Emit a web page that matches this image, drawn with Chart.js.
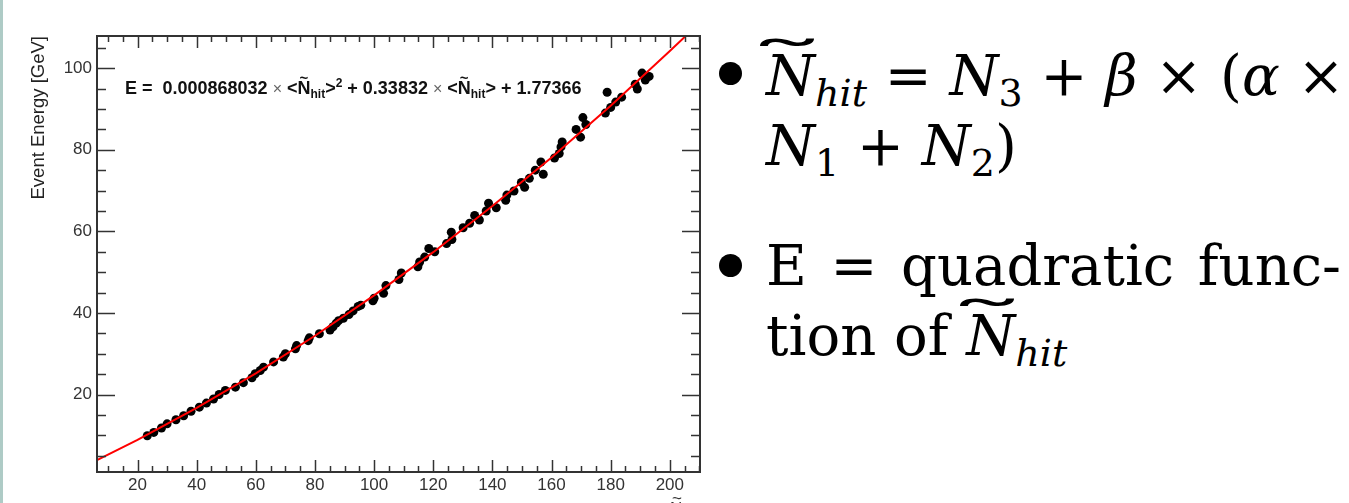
<!DOCTYPE html>
<html>
<head>
<meta charset="utf-8">
<script src="https://cdn.jsdelivr.net/npm/chart.js@4.4.0/dist/chart.umd.min.js"></script>
<style>
html, body { margin: 0; padding: 0; background: #fff; width: 1349px; height: 503px; overflow: hidden; }
#strip { position: absolute; left: 0; top: 0; width: 3px; height: 503px; background: #aecbc6; }
#plot { position: absolute; left: 0; top: 0; width: 712px; height: 503px; }
.bul { position: absolute; left: 719px; width: 23px; height: 23px; border-radius: 50%; background: #000; }
.ln { position: absolute; left: 766px; width: 575px; font-family: "DejaVu Serif", "Liberation Serif", "Noto Serif", serif;
      font-size: 56px; line-height: 60px; color: #000; text-align: justify; text-align-last: justify; white-space: nowrap; }
.ln i { font-style: italic; }
.sb { font-size: 38px; position: relative; top: 11px; }
.wt { position: relative; display: inline-block; }
.wt .tl { position: absolute; left: 28px; width: 100%; text-align: center; top: -13px; font-style: normal;
          transform: scaleX(3); }
</style>
</head>
<body>
<div id="strip"></div>
<div id="plot"><canvas id="myChart"></canvas></div>

<div class="bul" style="top:62px"></div>
<div class="ln" style="top:46px"><span class="wt"><i>N</i><span class="tl">˜</span></span><i class="sb">hit</i> = <i>N</i><span class="sb">3</span> + <i>β</i> × (<i>α</i> ×</div>
<div class="ln" style="top:116px;text-align-last:left"><i>N</i><span class="sb">1</span> + <i>N</i><span class="sb">2</span>)</div>
<div class="bul" style="top:254px"></div>
<div class="ln" style="top:236px">E = quadratic func-</div>
<div class="ln" style="top:306px;text-align-last:left">tion of <span class="wt"><i>N</i><span class="tl">˜</span></span><i class="sb">hit</i></div>

<script>
// measured points: <N~hit> vs event energy
var nhit = [23.3, 25.5, 28.1, 30.0, 33.0, 35.6, 38.1, 40.9, 43.3, 45.7,
            47.6, 49.7, 53.1, 55.8, 58.7, 59.8, 61.5, 62.6, 66.0, 69.3,
            70.0, 73.4, 73.8, 77.7, 78.1, 81.5, 85.1, 86.1, 87.2, 88.0,
            89.6, 91.5, 92.9, 94.6, 95.5, 99.6, 100.0, 103.2, 104.0, 108.4,
            109.2, 114.8, 115.4, 117.1, 118.5, 120.5, 124.5, 126.3, 126.1, 130.1,
            132.3, 134.0, 135.6, 137.9, 138.7, 141.3, 144.5, 144.9, 147.3, 149.8,
            150.9, 152.5, 154.5, 156.4, 157.2, 161.0, 162.6, 163.2, 163.6, 168.3,
            169.8, 170.6, 171.6, 178.2, 178.8, 180.0, 181.7, 183.7, 188.3, 189.0,
            190.6, 191.7, 193.0];
var energy = [9.9, 10.7, 11.8, 12.8, 13.8, 14.8, 15.9, 16.9, 17.9, 18.9,
              20.0, 21.0, 21.8, 22.9, 24.1, 25.1, 25.9, 26.7, 28.0, 29.2,
              30.0, 31.2, 32.0, 33.2, 33.9, 34.9, 35.8, 36.6, 37.5, 38.1,
              38.7, 39.6, 40.5, 41.6, 41.9, 43.0, 43.6, 44.8, 46.7, 48.2,
              49.8, 51.3, 52.5, 53.7, 55.8, 55.0, 57.0, 58.0, 59.8, 60.9,
              62.0, 63.9, 62.8, 65.0, 66.9, 65.8, 67.6, 68.9, 69.9, 72.0,
              70.8, 73.0, 75.0, 77.0, 74.0, 78.0, 79.1, 80.7, 81.9, 85.0,
              83.1, 87.9, 86.2, 89.0, 94.1, 90.4, 91.7, 92.9, 96.1, 94.9,
              98.8, 97.1, 98.0];

// fit curve
var fitX = [6.3, 20, 40, 60, 80, 100, 120, 140, 160, 180, 200, 210];
var fitE = [3.9, 8.9, 16.7, 25.2, 34.4, 44.3, 54.9, 66.2, 78.1, 90.8, 104.2, 111.1];

var xTicks = [20, 40, 60, 80, 100, 120, 140, 160, 180, 200];
var yTicks = [20, 40, 60, 80, 100];

var fitText = ['0.000868032', '0.33832', '1.77366'];

function pts(xs, ys) {
    return xs.map(function (v, i) { return {x: v, y: ys[i]}; });
}

Chart.defaults.font.family = '"Liberation Sans", Arial, sans-serif';
Chart.defaults.color = '#333';

// ROOT style frame, inward ticks on all four sides, fit label
var rootFrame = {
    id: 'rootFrame',
    afterDatasetsDraw: function (chart) {
        var ctx = chart.ctx, a = chart.chartArea;
        var xs = chart.scales.x, ys = chart.scales.y;
        ctx.save();
        ctx.strokeStyle = '#333';
        ctx.lineWidth = 1.5;
        function seg(x1, y1, x2, y2) {
            ctx.beginPath(); ctx.moveTo(x1, y1); ctx.lineTo(x2, y2); ctx.stroke();
        }
        var v, p, len;
        for (v = Math.ceil(xs.min / 5) * 5; v <= xs.max; v += 5) {
            p = Math.round(xs.getPixelForValue(v)) + 0.5;
            len = xTicks.indexOf(v) >= 0 ? 12 : 6;
            seg(p, a.bottom, p, a.bottom - len);
            seg(p, a.top, p, a.top + len);
        }
        for (v = Math.ceil(ys.min / 5) * 5; v <= ys.max; v += 5) {
            p = Math.round(ys.getPixelForValue(v)) + 0.5;
            len = yTicks.indexOf(v) >= 0 ? 18 : 9;
            seg(a.left, p, a.left + len, p);
            seg(a.right, p, a.right - len, p);
        }
        ctx.lineWidth = 2;
        ctx.strokeRect(a.left, a.top, a.right - a.left, a.bottom - a.top);

        // fit formula
        var bold = 'bold 18px "Liberation Sans", Arial, sans-serif';
        var small = 'bold 12px "Liberation Sans", Arial, sans-serif';
        var thin = '16px "Liberation Sans", Arial, sans-serif';
        var parts = [
            [bold, 'E =  ' + fitText[0] + ' ', 0], [thin, '\u00d7', 0], [bold, ' <', 0], [bold, 'N', 0, 1],
            [small, 'hit', 4], [bold, '>', 0], [small, '2', -7],
            [bold, ' + ' + fitText[1] + ' ', 0], [thin, '\u00d7', 0], [bold, ' <', 0], [bold, 'N', 0, 1],
            [small, 'hit', 4], [bold, '> + ' + fitText[2], 0]
        ];
        var x = 125, base = 94;
        ctx.textBaseline = 'alphabetic';
        ctx.textAlign = 'left';
        parts.forEach(function (q) {
            ctx.font = q[0];
            ctx.fillStyle = q[1] === '\u00d7' ? '#666' : '#111';
            ctx.fillText(q[1], x, base + q[2]);
            var w = ctx.measureText(q[1]).width;
            if (q[3]) {
                ctx.font = 'bold 15px "Liberation Sans", Arial, sans-serif';
                ctx.fillText('~', x + 2, base - 11);
            }
            x += w;
        });

        // axis title, mostly cut off at the bottom edge
        ctx.font = '17px "Liberation Sans", Arial, sans-serif';
        ctx.fillStyle = '#333';
        ctx.fillText('<', 659, 514);
        ctx.fillText('N', 670, 514);
        ctx.fillText('~', 672, 504);
        ctx.restore();
    }
};

var ctx = document.getElementById('myChart').getContext('2d');
var myChart = new Chart(ctx, {
    type: 'scatter',
    data: {
        datasets: [
            {
                type: 'line',
                label: 'fit',
                data: pts(fitX, fitE),
                borderColor: '#ff0000',
                borderWidth: 2,
                pointRadius: 0,
                fill: false,
                tension: 0
            },
            {
                label: 'events',
                data: pts(nhit, energy),
                backgroundColor: '#000',
                borderColor: '#000',
                borderWidth: 0,
                pointRadius: 4.5
            }
        ]
    },
    options: {
        responsive: true,
        maintainAspectRatio: false,
        animation: false,
        layout: { padding: { left: 28, right: 12, top: 36, bottom: 0 } },
        plugins: { legend: { display: false }, tooltip: { enabled: false } },
        scales: {
            x: {
                type: 'linear',
                min: 6.3, max: 210.2,
                grid: { display: false, drawTicks: false },
                border: { display: false },
                ticks: { stepSize: 20, includeBounds: false, padding: 3, font: { size: 17 }, color: '#333' },
                afterFit: function (s) { s.height = 31; }
            },
            y: {
                type: 'linear',
                min: 1.0, max: 107.9,
                grid: { display: false, drawTicks: false },
                border: { display: false },
                ticks: { stepSize: 20, includeBounds: false, padding: 5, font: { size: 17 }, color: '#333' },
                title: { display: true, text: 'Event Energy [GeV]', align: 'end', padding: 0,
                         font: { size: 18.5 }, color: '#222' },
                afterFit: function (s) { s.width = 69; }
            }
        }
    },
    plugins: [rootFrame]
});
</script>
</body>
</html>
